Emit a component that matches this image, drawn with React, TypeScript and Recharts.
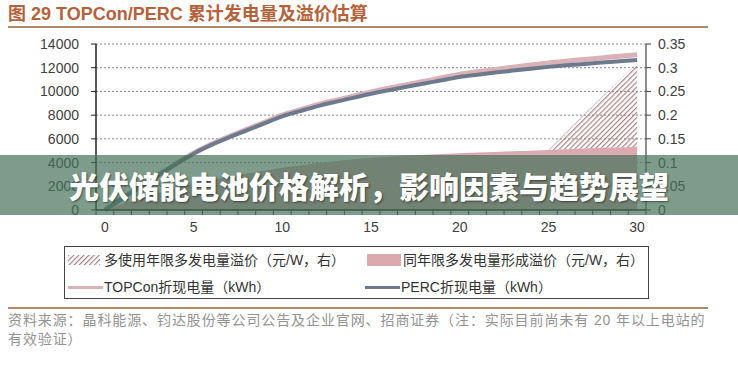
import { Area, CartesianGrid, ComposedChart, Line, XAxis, YAxis } from "recharts";

// 使用年限（年）
const years = [
  0, 1, 2, 3, 4, 5, 6, 7, 8, 9, 10, 11, 12, 13, 14, 15, 16, 17, 18, 19, 20, 21, 22, 23, 24, 25, 26,
  27, 28, 29, 30,
];
// TOPCon 折现电量（kWh）
const topconKwh = [
  0, 1000, 1990, 2960, 3900, 4800, 5550, 6200, 6800, 7400, 8000, 8450, 8880, 9250, 9600, 9950,
  10270, 10570, 10860, 11150, 11450, 11660, 11860, 12050, 12230, 12400, 12550, 12690, 12830, 12970,
  13100,
];
// PERC 折现电量（kWh）
const percKwh = [
  0, 990, 1970, 2930, 3860, 4750, 5490, 6130, 6720, 7310, 7900, 8340, 8760, 9120, 9460, 9800, 10100,
  10390, 10670, 10940, 11220, 11410, 11590, 11760, 11920, 12070, 12200, 12320, 12440, 12550, 12660,
];
// 同年限多发电量形成溢价（元/W）
const sameLifePremium = [
  0, 0.013, 0.025, 0.036, 0.046, 0.055, 0.063, 0.07, 0.077, 0.083, 0.089, 0.094, 0.099, 0.103,
  0.107, 0.11, 0.1125, 0.115, 0.1165, 0.118, 0.1195, 0.121, 0.1225, 0.124, 0.125, 0.1265, 0.128,
  0.1295, 0.131, 0.132, 0.1335,
];
// 多使用年限多发电量溢价（元/W）
const longerLifePremium = [
  0, 0, 0, 0, 0, 0, 0, 0, 0, 0, 0, 0, 0, 0, 0, 0, 0, 0, 0, 0, 0, 0, 0, 0, 0, 0, 0.036, 0.072, 0.107,
  0.142, 0.178,
];

const xLabels = [0, 5, 10, 15, 20, 25, 30];
const leftTicks = [0, 2000, 4000, 6000, 8000, 10000, 12000, 14000];
const rightTicks = [0, 0.05, 0.1, 0.15, 0.2, 0.25, 0.3, 0.35];

const data = years.map((year, i) => ({
  year,
  topcon: topconKwh[i],
  perc: percKwh[i],
  same: sameLifePremium[i],
  longer: longerLifePremium[i],
}));

// tick marks sit between the years, labels every 5
const minorTicks = [...years.map((y) => y - 0.5), 30.5];
const xTicks = [...minorTicks, ...xLabels].sort((a, b) => a - b);

const PLOT_BOTTOM = 210;
const FONT = "'Liberation Sans', Arial, 'Noto Sans CJK SC', sans-serif";
const PINK_LINE = "#d9b1b6";
const PERC_LINE = "#6d7a8e";
const PINK_FILL = "#dba9ae";
const HATCH = "#a4777b";
const AXIS_TEXT = "#404040";

function XTick(props: any) {
  const { x, payload } = props;
  const v = payload.value;
  if (Number.isInteger(v)) {
    return (
      <text x={x} y={PLOT_BOTTOM + 22} textAnchor="middle" fontSize={14} fill={AXIS_TEXT}>
        {v}
      </text>
    );
  }
  return <line x1={x} x2={x} y1={PLOT_BOTTOM} y2={PLOT_BOTTOM + 5} stroke="#333" />;
}

function HatchPattern({ id }: { id: string }) {
  return (
    <pattern id={id} width="3.6" height="3.6" patternUnits="userSpaceOnUse" patternTransform="rotate(45)">
      <line x1="0.6" y1="0" x2="0.6" y2="3.6" stroke={HATCH} strokeWidth="1.1" />
    </pattern>
  );
}

export default function App() {
  return (
    <div
      style={{
        position: "absolute",
        left: 0,
        top: 0,
        width: 738,
        height: 372,
        background: "#fff",
        overflow: "hidden",
        fontFamily: FONT,
      }}
    >
      <div
        style={{
          position: "absolute",
          left: 8,
          top: 4,
          fontSize: 18,
          lineHeight: "20px",
          fontWeight: 700,
          color: "#b5623a",
          whiteSpace: "nowrap",
        }}
      >
        图 29 TOPCon/PERC 累计发电量及溢价估算
      </div>
      <div style={{ position: "absolute", left: 8, top: 26, width: 700, height: 2, background: "#b48a6c" }} />

      <div style={{ position: "absolute", left: 0, top: 0 }}>
        <ComposedChart width={738} height={240} data={data} margin={{ top: 44, right: 0, bottom: 0, left: 0 }}>
          <defs>
            <HatchPattern id="hatch" />
          </defs>
          <CartesianGrid yAxisId="left" vertical={false} stroke="#8a8a8a" strokeDasharray="2 2" />
          <XAxis
            type="number"
            dataKey="year"
            domain={[-0.5, 30.5]}
            ticks={xTicks}
            interval={0}
            tickLine={false}
            tick={<XTick />}
            height={30}
            axisLine={{ stroke: "#222", strokeWidth: 1.5 }}
          />
          <YAxis
            yAxisId="left"
            domain={[0, 14000]}
            ticks={leftTicks}
            interval={0}
            width={96}
            tickSize={5}
            tickMargin={12}
            tick={{ fill: AXIS_TEXT, fontSize: 14 }}
            tickLine={{ stroke: "#222" }}
            axisLine={{ stroke: "#222", strokeWidth: 1.5 }}
          />
          <YAxis
            yAxisId="right"
            orientation="right"
            domain={[0, 0.35]}
            ticks={rightTicks}
            interval={0}
            width={92}
            tickSize={5}
            tickMargin={7}
            tick={{ fill: AXIS_TEXT, fontSize: 14 }}
            tickLine={{ stroke: "#444" }}
            axisLine={{ stroke: "#444", strokeWidth: 1.2 }}
          />
          <Area
            yAxisId="right"
            dataKey="same"
            stackId="p"
            type="linear"
            fill={PINK_FILL}
            fillOpacity={1}
            stroke="none"
            isAnimationActive={false}
          />
          <Area
            yAxisId="right"
            dataKey="longer"
            stackId="p"
            type="linear"
            fill="url(#hatch)"
            fillOpacity={1}
            stroke="none"
            isAnimationActive={false}
          />
          <Line
            yAxisId="left"
            dataKey="topcon"
            type="monotone"
            stroke={PINK_LINE}
            strokeWidth={5}
            dot={false}
            isAnimationActive={false}
          />
          <Line
            yAxisId="left"
            dataKey="perc"
            type="monotone"
            stroke={PERC_LINE}
            strokeWidth={4}
            dot={false}
            isAnimationActive={false}
          />
        </ComposedChart>
      </div>

      {/* legend */}
      <div
        style={{
          position: "absolute",
          left: 64,
          top: 246,
          width: 585,
          height: 53,
          border: "1px solid #444",
          boxSizing: "border-box",
        }}
      />
      <svg style={{ position: "absolute", left: 68, top: 255 }} width={32} height={10}>
        <defs>
          <HatchPattern id="hatchLegend" />
        </defs>
        <rect x={0} y={0} width={32} height={10} fill="url(#hatchLegend)" />
      </svg>
      <LegendText left={104} top={260} text="多使用年限多发电量溢价（元/W，右）" />
      <div style={{ position: "absolute", left: 367, top: 254, width: 34, height: 12, background: PINK_FILL }} />
      <LegendText left={403} top={260} text="同年限多发电量形成溢价（元/W，右）" />
      <div style={{ position: "absolute", left: 68, top: 286, width: 35, height: 3, background: PINK_LINE }} />
      <LegendText left={104} top={287} text="TOPCon折现电量（kWh）" />
      <div style={{ position: "absolute", left: 365, top: 286, width: 35, height: 3, background: PERC_LINE }} />
      <LegendText left={401} top={287} text="PERC折现电量（kWh）" />

      <div style={{ position: "absolute", left: 8, top: 307, width: 700, height: 2, background: "#b48a6c" }} />
      <div
        style={{
          position: "absolute",
          left: 8,
          top: 311,
          fontSize: 14,
          lineHeight: "19px",
          letterSpacing: 0.9,
          color: "#939393",
          whiteSpace: "nowrap",
        }}
      >
        <div>资料来源：晶科能源、钧达股份等公司公告及企业官网、招商证券（注：实际目前尚未有 20 年以上电站的</div>
        <div>有效验证）</div>
      </div>

      {/* banner overlay */}
      <div
        style={{
          position: "absolute",
          left: 0,
          top: 155,
          width: 738,
          height: 60,
          background: "rgba(70,114,90,0.7)",
        }}
      />
      <div
        style={{
          position: "absolute",
          left: 0,
          top: 155,
          width: 738,
          height: 60,
          display: "flex",
          alignItems: "center",
          justifyContent: "center",
          fontFamily: "'Noto Sans CJK SC', sans-serif",
          fontWeight: 900,
          fontSize: 30,
          color: "#fff",
          textShadow: "1px 1px 2px rgba(0,0,0,0.5)",
          whiteSpace: "nowrap",
        }}
      >
        光伏储能电池价格解析，影响因素与趋势展望
      </div>
    </div>
  );
}

function LegendText({ left, top, text }: { left: number; top: number; text: string }) {
  return (
    <div
      style={{
        position: "absolute",
        left,
        top: top - 10,
        height: 20,
        lineHeight: "20px",
        fontSize: 14,
        color: "#333",
        whiteSpace: "nowrap",
      }}
    >
      {text}
    </div>
  );
}
